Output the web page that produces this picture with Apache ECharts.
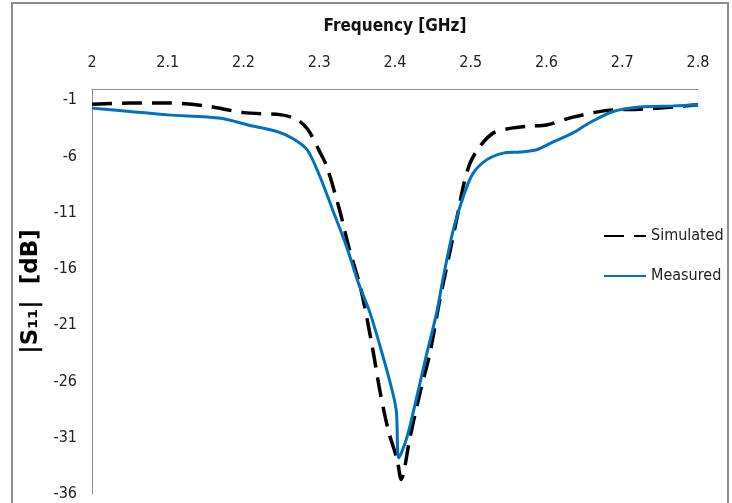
<!DOCTYPE html>
<html>
<head>
<meta charset="utf-8">
<script src="https://cdn.jsdelivr.net/npm/echarts@6/dist/echarts.min.js"></script>
<style>
    html, body { margin: 0; padding: 0; background: #fff; }
    #chart { width: 732px; height: 503px; }
</style>
</head>
<body>
<div id="chart"></div>
<script>
    // values
    let simFreq = [2.00, 2.05, 2.10, 2.15, 2.20, 2.25, 2.27, 2.285, 2.30, 2.31, 2.327, 2.34, 2.355, 2.37, 2.38, 2.391, 2.403, 2.408,
        2.42, 2.433, 2.446, 2.459, 2.473, 2.482, 2.49, 2.499, 2.512, 2.53, 2.552, 2.578, 2.60, 2.635, 2.68, 2.723, 2.767, 2.80];
    let simS11 = [-1.35, -1.25, -1.25, -1.5, -2.1, -2.3, -2.7, -3.6, -5.5, -6.9, -10.8, -14.3, -17.8, -22.9, -26.8, -30.3, -33.0, -34.7,
        -30.9, -27.0, -23.5, -18.8, -14.3, -11.4, -8.7, -6.6, -5.1, -3.9, -3.5, -3.3, -3.2, -2.5, -1.9, -1.8, -1.6, -1.4];

    let measFreq = [2.00, 2.05, 2.10, 2.17, 2.206, 2.245, 2.265, 2.284, 2.301, 2.318, 2.336, 2.352, 2.367, 2.383, 2.397, 2.402, 2.405,
        2.416, 2.429, 2.442, 2.455, 2.463, 2.477, 2.49, 2.503, 2.521, 2.543, 2.565, 2.587, 2.609, 2.635, 2.657, 2.688, 2.723, 2.767, 2.80];
    let measS11 = [-1.7, -2.0, -2.3, -2.6, -3.2, -3.8, -4.4, -5.4, -7.8, -10.8, -14.0, -17.3, -19.9, -23.5, -27.0, -28.8, -32.8,
        -30.9, -27.3, -23.5, -19.9, -17.0, -12.5, -9.6, -7.5, -6.3, -5.7, -5.6, -5.4, -4.7, -3.9, -3.0, -2.0, -1.6, -1.5, -1.4];

    let yLabels = [-36, -31, -26, -21, -16, -11, -6, -1];

    let font = '"Liberation Sans Narrow", "DejaVu Sans Condensed", "Noto Sans", sans-serif';

    function pairs(xs, ys) {
        return xs.map((x, i) => [x, ys[i]]);
    }

    let chart = echarts.init(document.getElementById('chart'));
    chart.setOption({
        animation: false,
        backgroundColor: '#fff',
        graphic: [{
            type: 'rect',
            shape: { x: 12, y: 3, width: 716, height: 520 },
            style: { fill: 'none', stroke: '#8c8c8c', lineWidth: 2 },
            silent: true
        }],
        grid: { left: 92, right: 34, top: 89, bottom: 9 },
        legend: {
            orient: 'vertical',
            left: 598,
            top: 223,
            itemWidth: 42,
            itemHeight: 14,
            itemGap: 24,
            itemStyle: { opacity: 0 },
            textStyle: { fontFamily: font, fontSize: 16, color: '#222' },
            data: ['Simulated', 'Measured']
        },
        xAxis: {
            type: 'value',
            position: 'top',
            min: 2,
            max: 2.8,
            interval: 0.1,
            name: 'Frequency [GHz]',
            nameLocation: 'middle',
            nameGap: 54,
            nameTextStyle: { fontFamily: font, fontSize: 17, fontWeight: 'bold', color: '#111' },
            axisLine: { show: true, lineStyle: { color: '#8c8c8c', width: 1 } },
            axisTick: { show: false },
            splitLine: { show: false },
            axisLabel: { margin: 18, fontFamily: font, fontSize: 16, color: '#222',
                formatter: v => +v.toFixed(1) + '' }
        },
        yAxis: {
            type: 'value',
            min: -36,
            max: 0,
            name: '|S\u2081\u2081|  [dB]',
            nameLocation: 'middle',
            nameGap: 48,
            nameRotate: 90,
            nameTextStyle: { fontFamily: '"DejaVu Sans", sans-serif', fontSize: 23, fontWeight: 'bold', color: '#000' },
            axisLine: { show: true, lineStyle: { color: '#8c8c8c', width: 1 } },
            axisTick: { show: false },
            splitLine: { show: false },
            axisLabel: { margin: 15, fontFamily: font, fontSize: 16, color: '#222', customValues: yLabels }
        },
        series: [
            {
                name: 'Simulated',
                type: 'line',
                data: pairs(simFreq, simS11),
                smooth: 0.3,
                showSymbol: false,
                symbol: 'none',
                color: '#000',
                lineStyle: { color: '#000', width: 3.5, type: [20, 10] }
            },
            {
                name: 'Measured',
                type: 'line',
                data: pairs(measFreq, measS11),
                smooth: 0.3,
                showSymbol: false,
                symbol: 'none',
                color: '#0070c0',
                lineStyle: { color: '#0070c0', width: 3 }
            }
        ]
    });
</script>
</body>
</html>
